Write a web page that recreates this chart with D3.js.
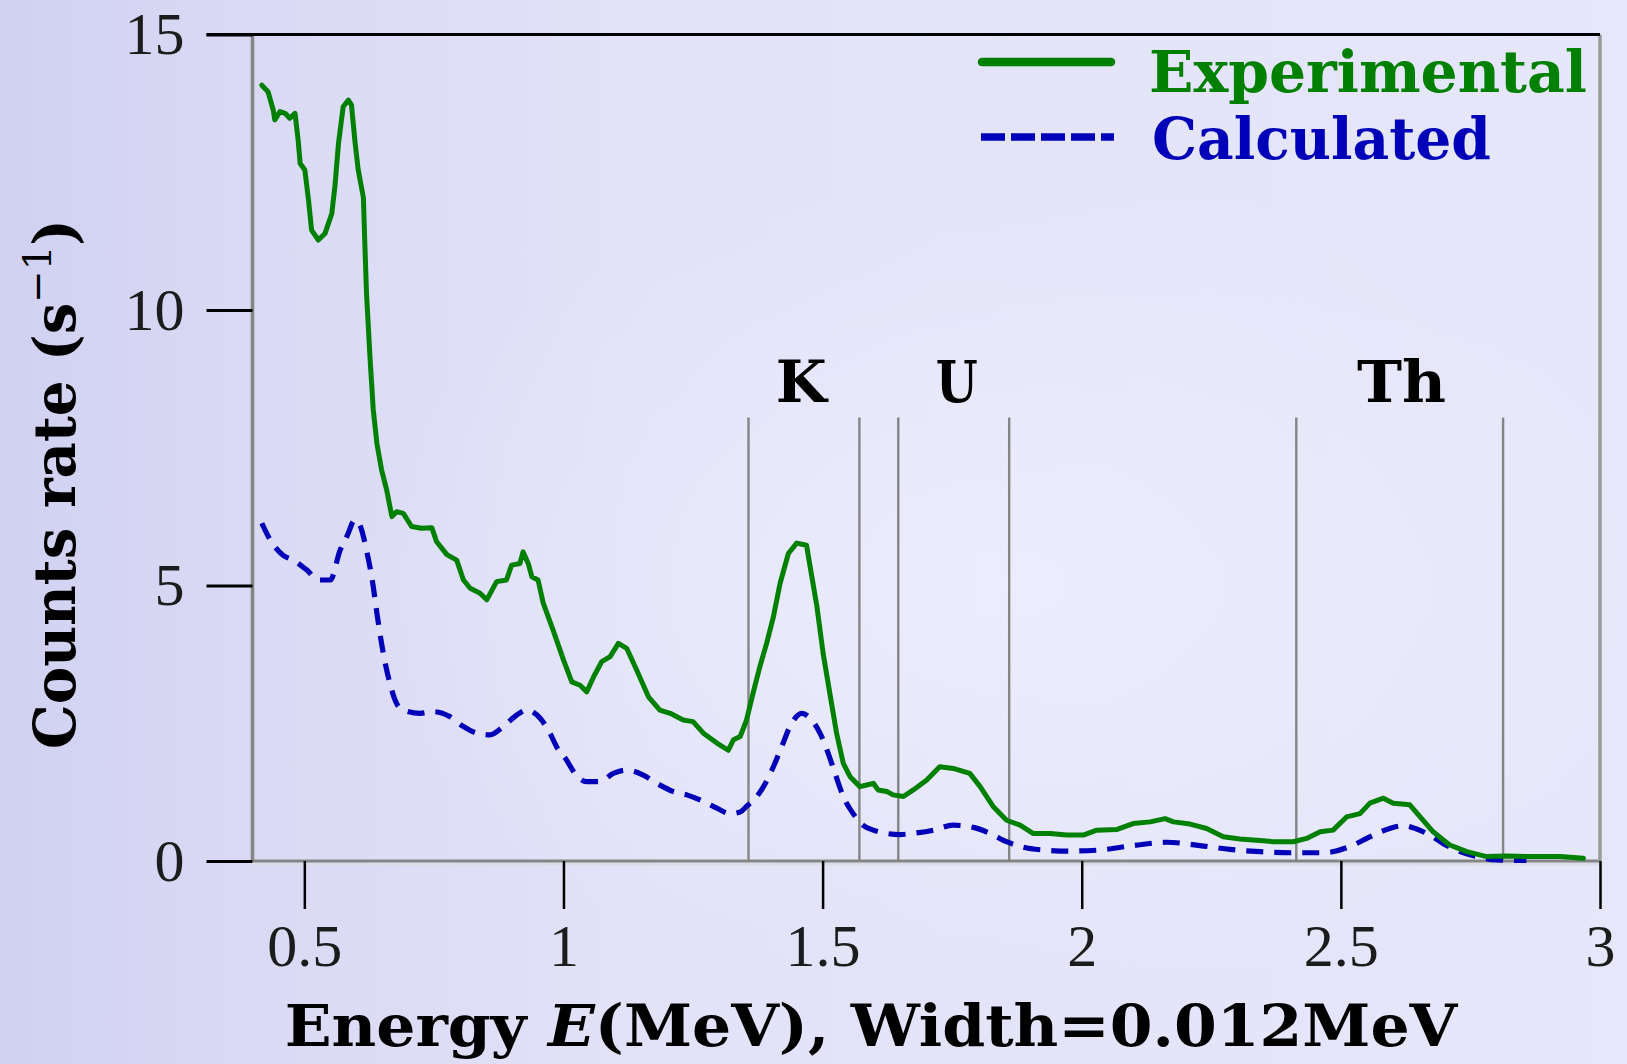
<!DOCTYPE html>
<html>
<head>
<meta charset="utf-8">
<script src="https://cdn.jsdelivr.net/npm/d3@7"></script>
<style>
html,body{margin:0;padding:0;background:#e4e4f9;}
svg{display:block;}
</style>
</head>
<body>
<svg id="chart" width="1627" height="1064"></svg>
<script>
// ---------------- data ----------------
const expEnergy = [0.418,0.430,0.440,0.443,0.453,0.463,0.472,0.482,0.488,0.492,0.501,0.508,0.514,0.527,0.540,0.553,0.559,0.566,0.575,0.585,0.591,0.598,0.604,0.614,0.617,0.620,0.627,0.633,0.640,0.649,0.659,0.669,0.678,0.691,0.707,0.726,0.746,0.755,0.775,0.794,0.807,0.820,0.839,0.852,0.871,0.890,0.900,0.916,0.922,0.932,0.939,0.951,0.961,0.980,1.000,1.016,1.032,1.045,1.058,1.074,1.090,1.106,1.122,1.141,1.164,1.186,1.206,1.231,1.250,1.270,1.296,1.318,1.328,1.341,1.353,1.366,1.379,1.392,1.405,1.418,1.434,1.450,1.469,1.476,1.489,1.501,1.514,1.527,1.540,1.553,1.572,1.585,1.598,1.607,1.624,1.636,1.656,1.675,1.701,1.726,1.752,1.784,1.804,1.829,1.855,1.881,1.906,1.939,1.971,2.003,2.029,2.067,2.099,2.132,2.161,2.177,2.209,2.241,2.273,2.305,2.344,2.370,2.408,2.434,2.460,2.485,2.511,2.537,2.556,2.582,2.601,2.633,2.653,2.678,2.710,2.743,2.781,2.820,2.871,2.923,2.968];
const expRate = [14.08,13.96,13.63,13.45,13.60,13.57,13.48,13.57,13.09,12.66,12.54,12.00,11.45,11.27,11.39,11.75,12.24,13.03,13.69,13.81,13.72,13.03,12.54,12.04,11.13,10.30,9.09,8.19,7.58,7.10,6.73,6.25,6.34,6.31,6.07,6.04,6.05,5.80,5.56,5.46,5.10,4.95,4.86,4.74,5.07,5.10,5.37,5.40,5.61,5.40,5.16,5.10,4.68,4.19,3.65,3.25,3.19,3.07,3.34,3.62,3.71,3.95,3.86,3.47,2.98,2.74,2.68,2.56,2.53,2.32,2.14,2.01,2.20,2.26,2.55,3.05,3.53,3.95,4.43,5.04,5.58,5.77,5.73,5.34,4.62,3.77,3.04,2.32,1.77,1.53,1.35,1.38,1.41,1.29,1.26,1.20,1.17,1.29,1.47,1.71,1.68,1.59,1.35,0.99,0.74,0.65,0.50,0.50,0.47,0.47,0.56,0.57,0.68,0.71,0.77,0.71,0.67,0.59,0.44,0.40,0.37,0.35,0.35,0.41,0.53,0.56,0.80,0.86,1.05,1.14,1.05,1.02,0.80,0.53,0.29,0.17,0.08,0.09,0.08,0.08,0.05];

const calcEnergy = [0.418,0.434,0.459,0.479,0.505,0.527,0.550,0.569,0.582,0.598,0.607,0.620,0.633,0.640,0.649,0.662,0.678,0.691,0.723,0.749,0.781,0.807,0.833,0.858,0.884,0.910,0.929,0.955,0.974,0.987,1.006,1.022,1.045,1.070,1.096,1.122,1.154,1.180,1.212,1.238,1.270,1.296,1.321,1.341,1.353,1.373,1.386,1.405,1.421,1.437,1.460,1.476,1.495,1.511,1.524,1.540,1.559,1.578,1.598,1.624,1.649,1.681,1.714,1.752,1.791,1.823,1.855,1.887,1.926,1.977,2.035,2.099,2.164,2.228,2.286,2.344,2.402,2.466,2.524,2.550,2.582,2.621,2.646,2.672,2.697,2.730,2.762,2.801,2.858];
const calcRate = [6.13,5.83,5.55,5.46,5.28,5.10,5.10,5.64,5.89,6.19,6.10,5.64,4.98,4.50,3.95,3.34,2.86,2.74,2.68,2.71,2.62,2.44,2.32,2.29,2.44,2.65,2.74,2.59,2.32,2.07,1.83,1.59,1.44,1.44,1.59,1.65,1.56,1.41,1.26,1.20,1.08,0.96,0.86,0.89,0.99,1.17,1.35,1.71,2.07,2.44,2.68,2.59,2.32,1.95,1.59,1.17,0.86,0.65,0.56,0.50,0.48,0.51,0.56,0.65,0.61,0.50,0.35,0.25,0.20,0.18,0.20,0.28,0.34,0.28,0.21,0.17,0.15,0.15,0.29,0.41,0.55,0.64,0.58,0.47,0.32,0.17,0.08,0.02,0.01];

const xTicks = [0.5, 1, 1.5, 2, 2.5, 3];
const xTickLabels = ["0.5", "1", "1.5", "2", "2.5", "3"];
const yTicks = [0, 5, 10, 15];
const yTickLabels = ["0", "5", "10", "15"];

const windowEdges = [1.357, 1.571, 1.646, 1.860, 2.414, 2.813];
const windowTop = 8.05;
const windowNames = ["K", "U", "Th"];
const windowLabelEnergy = [1.459, 1.759, 2.617];
const windowLabelRate = 8.33;

const seriesNames = ["Experimental", "Calculated"];

// ---------------- layout ----------------
const svg = d3.select("#chart");
const W = 1627, H = 1064;
const x = d3.scaleLinear().domain([0.4, 3]).range([252.5, 1600]);
const y = d3.scaleLinear().domain([0, 15]).range([861, 34.5]);

const GREEN = "#008000", BLUE = "#0000b8", GRAY = "#858585";
const serifBold = "'DejaVu Serif', serif";
const tickFont = "'Liberation Serif', 'Times New Roman', serif";

// background
const defs = svg.append("defs");
const lg = defs.append("linearGradient").attr("id", "bg").attr("x1", "0%").attr("x2", "100%").attr("y1", "0%").attr("y2", "0%");
lg.append("stop").attr("offset", "0%").attr("stop-color", "#d0d1f1");
lg.append("stop").attr("offset", "14%").attr("stop-color", "#d9d9f5");
lg.append("stop").attr("offset", "40%").attr("stop-color", "#e2e2f8");
lg.append("stop").attr("offset", "100%").attr("stop-color", "#e7e7fb");
svg.append("rect").attr("width", W).attr("height", H).attr("fill", "url(#bg)");
const rg = defs.append("radialGradient").attr("id", "glow").attr("cx", "62%").attr("cy", "55%").attr("r", "40%");
rg.append("stop").attr("offset", "0%").attr("stop-color", "#f0f0ff").attr("stop-opacity", 0.7);
rg.append("stop").attr("offset", "100%").attr("stop-color", "#f0f0ff").attr("stop-opacity", 0);
svg.append("rect").attr("width", W).attr("height", H).attr("fill", "url(#glow)");

// window lines
svg.append("g").selectAll("line").data(windowEdges).join("line")
  .attr("x1", d => x(d)).attr("x2", d => x(d))
  .attr("y1", y(windowTop)).attr("y2", y(0))
  .attr("stroke", GRAY).attr("stroke-width", 2.4);

// axes frame
svg.append("line").attr("x1", x(0.4)).attr("x2", x(3)).attr("y1", y(0) + 3).attr("y2", y(0) + 3)
  .attr("stroke", "#dcdce8").attr("stroke-width", 3);
svg.append("line").attr("x1", x(0.4)).attr("x2", x(3)).attr("y1", y(0)).attr("y2", y(0))
  .attr("stroke", GRAY).attr("stroke-width", 3);
svg.append("line").attr("x1", x(0.4)).attr("x2", x(0.4)).attr("y1", y(15)).attr("y2", y(0))
  .attr("stroke", GRAY).attr("stroke-width", 3.5);
svg.append("line").attr("x1", x(3)).attr("x2", x(3)).attr("y1", y(15)).attr("y2", y(0))
  .attr("stroke", "#9a9a9a").attr("stroke-width", 3.5);

const yAxis = d3.axisLeft(y).tickValues(yTicks).tickFormat((d, i) => yTickLabels[i])
  .tickSize(46).tickPadding(22).tickSizeOuter(0);
const gy = svg.append("g").attr("transform", `translate(${x(0.4)},0)`).call(yAxis);
gy.select(".domain").remove();
gy.selectAll(".tick line").attr("stroke", "#000").attr("stroke-width", 3);
gy.selectAll(".tick text").attr("font-family", tickFont).attr("font-size", 60).attr("fill", "#1c1c1c");

// top border (black)
svg.append("line").attr("x1", x(0.4) - 46).attr("x2", x(3)).attr("y1", y(15)).attr("y2", y(15))
  .attr("stroke", "#000").attr("stroke-width", 3);

const xAxis = d3.axisBottom(x).tickValues(xTicks).tickFormat((d, i) => xTickLabels[i])
  .tickSize(48).tickPadding(14).tickSizeOuter(0);
const gx = svg.append("g").attr("transform", `translate(0,${y(0)})`).call(xAxis);
gx.select(".domain").remove();
gx.selectAll(".tick line").attr("stroke", "#000").attr("stroke-width", 2.5);
gx.selectAll(".tick text").attr("font-family", tickFont).attr("font-size", 60).attr("fill", "#1c1c1c");

// curves
const expData = expEnergy.map((e, i) => [e, expRate[i]]);
const calcData = calcEnergy.map((e, i) => [e, calcRate[i]]);
const lineLin = d3.line().x(d => x(d[0])).y(d => y(d[1])).curve(d3.curveLinear);
const lineSmooth = d3.line().x(d => x(d[0])).y(d => y(d[1])).curve(d3.curveMonotoneX);

svg.append("path").datum(calcData).attr("d", lineSmooth)
  .attr("fill", "none").attr("stroke", BLUE).attr("stroke-width", 5.2)
  .attr("stroke-dasharray", "17,11").attr("stroke-linejoin", "round");
svg.append("path").datum(expData).attr("d", lineLin)
  .attr("fill", "none").attr("stroke", GREEN).attr("stroke-width", 5)
  .attr("stroke-linejoin", "round").attr("stroke-linecap", "round");

// helper: text scaled horizontally to a target width
function fitText(parent, opts) {
  const g = parent.append("g");
  const t = g.append("text").attr("font-family", serifBold).attr("font-weight", "bold")
    .attr("font-size", opts.size || 58).attr("fill", opts.fill || "#000")
    .attr("text-anchor", opts.anchor || "middle");
  opts.build(t);
  const w = t.node().getComputedTextLength();
  const s = opts.width / w;
  g.attr("transform", `translate(${opts.x},${opts.y})` + (opts.rotate ? ` rotate(${opts.rotate})` : "") + ` scale(${s},1)`);
  return g;
}

// window labels
const windowLabelWidths = [51, 42, 89];
windowNames.forEach((nm, i) => {
  fitText(svg, { x: x(windowLabelEnergy[i]), y: y(windowLabelRate), width: windowLabelWidths[i], build: t => t.text(nm) });
});

// legend
svg.append("line").attr("x1", 982).attr("x2", 1111).attr("y1", 62).attr("y2", 62)
  .attr("stroke", GREEN).attr("stroke-width", 8.5).attr("stroke-linecap", "round");
svg.append("line").attr("x1", 981).attr("x2", 1114).attr("y1", 137).attr("y2", 137)
  .attr("stroke", BLUE).attr("stroke-width", 7.5).attr("stroke-dasharray", "24,6");
fitText(svg, { x: 1149, y: 92, width: 438, anchor: "start", fill: GREEN, build: t => t.text(seriesNames[0]) });
fitText(svg, { x: 1152, y: 159, width: 339, anchor: "start", fill: BLUE, build: t => t.text(seriesNames[1]) });

// axis titles
fitText(svg, { x: 871, y: 1046, width: 1173, build: t => {
  t.append("tspan").text("Energy ");
  t.append("tspan").attr("font-style", "italic").text("E");
  t.append("tspan").text("(MeV), Width=0.012MeV");
}});
fitText(svg, { x: 75, y: 484, width: 530, rotate: -90, build: t => {
  t.append("tspan").text("Counts rate (s");
  t.append("tspan").attr("font-size", 40).attr("font-weight", "normal").attr("dy", -24).text("\u22121");
  t.append("tspan").attr("dy", 24).text(")");
}});
</script>
</body>
</html>
